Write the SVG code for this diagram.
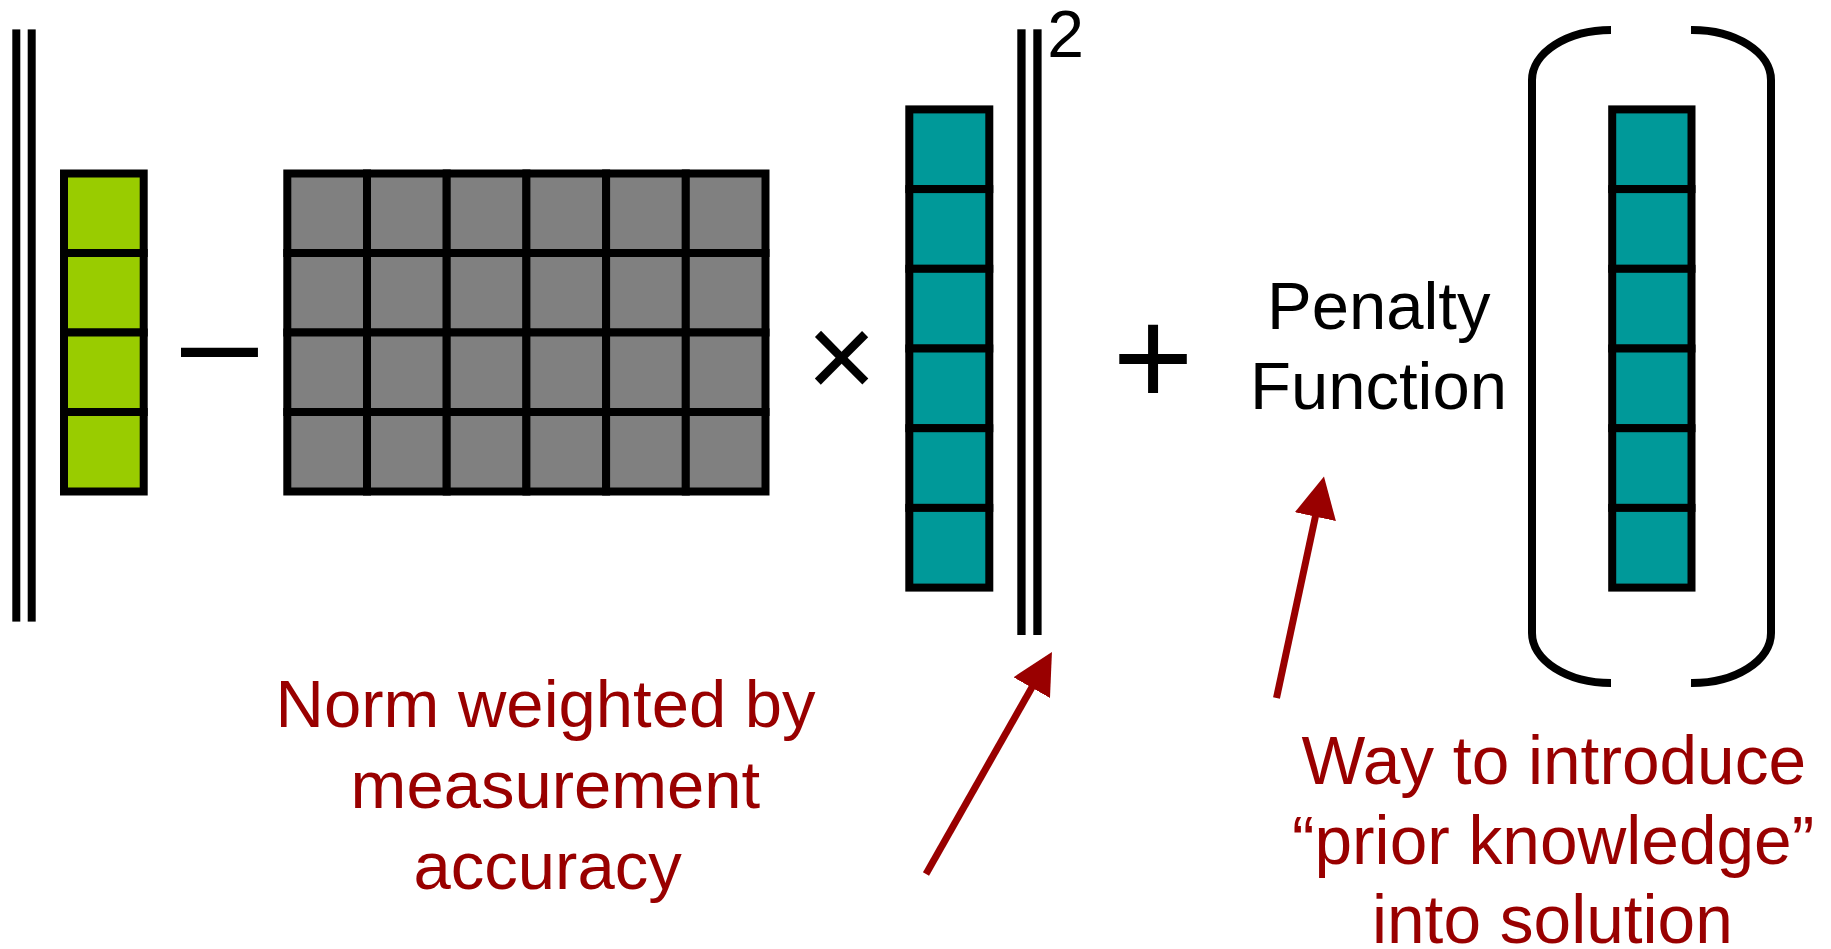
<svg xmlns="http://www.w3.org/2000/svg" width="1831" height="949" viewBox="0 0 1831 949">
<style>
  .bar { fill: #000000; }
  .cell { stroke: #000000; stroke-width: 8; }
  .g { fill: #99CC00; }
  .gr { fill: #808080; }
  .t { fill: #009999; }
  .paren { fill: none; stroke: #000000; stroke-width: 8; }
  .txt { font-family: "Liberation Sans", Arial, Helvetica, sans-serif; }
  .blk { fill: #000000; font-size: 67px; }
  .red { fill: #990000; font-size: 67px; }
  .redr { fill: #990000; font-size: 67.6px; }
  .op { fill: #000000; }
  .arrow { stroke: #990000; stroke-width: 7; fill: none; }
</style>
<defs>
  <marker id="head" markerUnits="userSpaceOnUse" markerWidth="44" markerHeight="44" refX="2" refY="21" orient="auto" viewBox="0 0 44 44">
    <path d="M0,0 L41,21 L0,42 Z" fill="#990000"/>
  </marker>
</defs>
<rect width="1831" height="949" fill="#ffffff"/>

<g id="norm-open">
  <rect class="bar" x="12.3" y="29.4" width="8" height="592.2"/>
  <rect class="bar" x="27.7" y="29.4" width="8" height="592.2"/>
</g>

<g id="vector-data">
  <rect class="cell g" x="64" y="173.5" width="79.7" height="79.5"/>
  <rect class="cell g" x="64" y="253" width="79.7" height="79.5"/>
  <rect class="cell g" x="64" y="332.5" width="79.7" height="79.5"/>
  <rect class="cell g" x="64" y="412" width="79.7" height="79.5"/>
</g>

<g id="minus-op">
  <text class="txt op" x="181" y="388" font-size="138.5">–</text>
</g>

<g id="matrix">
  <rect class="cell gr" x="287.3" y="173.5" width="79.7" height="79.5"/>
  <rect class="cell gr" x="367" y="173.5" width="79.7" height="79.5"/>
  <rect class="cell gr" x="446.7" y="173.5" width="79.7" height="79.5"/>
  <rect class="cell gr" x="526.4" y="173.5" width="79.7" height="79.5"/>
  <rect class="cell gr" x="606.1" y="173.5" width="79.7" height="79.5"/>
  <rect class="cell gr" x="685.8" y="173.5" width="79.7" height="79.5"/>
  <rect class="cell gr" x="287.3" y="253" width="79.7" height="79.5"/>
  <rect class="cell gr" x="367" y="253" width="79.7" height="79.5"/>
  <rect class="cell gr" x="446.7" y="253" width="79.7" height="79.5"/>
  <rect class="cell gr" x="526.4" y="253" width="79.7" height="79.5"/>
  <rect class="cell gr" x="606.1" y="253" width="79.7" height="79.5"/>
  <rect class="cell gr" x="685.8" y="253" width="79.7" height="79.5"/>
  <rect class="cell gr" x="287.3" y="332.5" width="79.7" height="79.5"/>
  <rect class="cell gr" x="367" y="332.5" width="79.7" height="79.5"/>
  <rect class="cell gr" x="446.7" y="332.5" width="79.7" height="79.5"/>
  <rect class="cell gr" x="526.4" y="332.5" width="79.7" height="79.5"/>
  <rect class="cell gr" x="606.1" y="332.5" width="79.7" height="79.5"/>
  <rect class="cell gr" x="685.8" y="332.5" width="79.7" height="79.5"/>
  <rect class="cell gr" x="287.3" y="412" width="79.7" height="79.5"/>
  <rect class="cell gr" x="367" y="412" width="79.7" height="79.5"/>
  <rect class="cell gr" x="446.7" y="412" width="79.7" height="79.5"/>
  <rect class="cell gr" x="526.4" y="412" width="79.7" height="79.5"/>
  <rect class="cell gr" x="606.1" y="412" width="79.7" height="79.5"/>
  <rect class="cell gr" x="685.8" y="412" width="79.7" height="79.5"/>
</g>

<g id="times-op">
  <text class="txt op" x="841.5" y="398" font-size="120" text-anchor="middle">×</text>
</g>

<g id="vector-solution">
  <rect class="cell t" x="909.3" y="109.4" width="80" height="79.7"/>
  <rect class="cell t" x="909.3" y="189.1" width="80" height="79.7"/>
  <rect class="cell t" x="909.3" y="268.8" width="80" height="79.7"/>
  <rect class="cell t" x="909.3" y="348.5" width="80" height="79.7"/>
  <rect class="cell t" x="909.3" y="428.2" width="80" height="79.7"/>
  <rect class="cell t" x="909.3" y="507.9" width="80" height="79.7"/>
</g>

<g id="norm-close">
  <rect class="bar" x="1017.3" y="29.3" width="8.3" height="605.7"/>
  <rect class="bar" x="1033.3" y="29.3" width="8.3" height="605.7"/>
  <text class="txt op" x="1047.3" y="57" font-size="66">2</text>
</g>

<g id="plus-op">
  <text class="txt op" x="1112.4" y="405" font-size="139">+</text>
</g>

<g id="penalty-label">
  <text class="txt blk" x="1267" y="328.8">Penalty</text>
  <text class="txt blk" x="1250" y="409.1">Function</text>
</g>

<g id="penalty-argument">
  <path class="paren" d="M1611,30 A79,50 0 0 0 1532,80 L1532,633 A79,50 0 0 0 1611,683"/>
  <path class="paren" d="M1691,30 A79,50 0 0 1 1771,80 L1771,633 A79,50 0 0 1 1691,683"/>
  <rect class="cell t" x="1612.2" y="109.4" width="79.3" height="79.7"/>
  <rect class="cell t" x="1612.2" y="189.1" width="79.3" height="79.7"/>
  <rect class="cell t" x="1612.2" y="268.8" width="79.3" height="79.7"/>
  <rect class="cell t" x="1612.2" y="348.5" width="79.3" height="79.7"/>
  <rect class="cell t" x="1612.2" y="428.2" width="79.3" height="79.7"/>
  <rect class="cell t" x="1612.2" y="507.9" width="79.3" height="79.7"/>
</g>

<g id="note-norm">
  <text class="txt red" x="275.6" y="727.3">Norm weighted by</text>
  <text class="txt red" x="350.6" y="808.3">measurement</text>
  <text class="txt red" x="413.6" y="889.3">accuracy</text>
</g>

<g id="note-prior">
  <text class="txt redr" x="1301.4" y="784">Way to introduce</text>
  <text class="txt redr" x="1292" y="864.3">“prior knowledge”</text>
  <text class="txt redr" x="1372" y="943.3">into solution</text>
</g>

<g id="connectors">
  <line class="arrow" x1="926" y1="874" x2="1032.7" y2="685.9" marker-end="url(#head)"/>
  <line class="arrow" x1="1276.5" y1="698" x2="1315.8" y2="514.7" marker-end="url(#head)"/>
</g>
</svg>
